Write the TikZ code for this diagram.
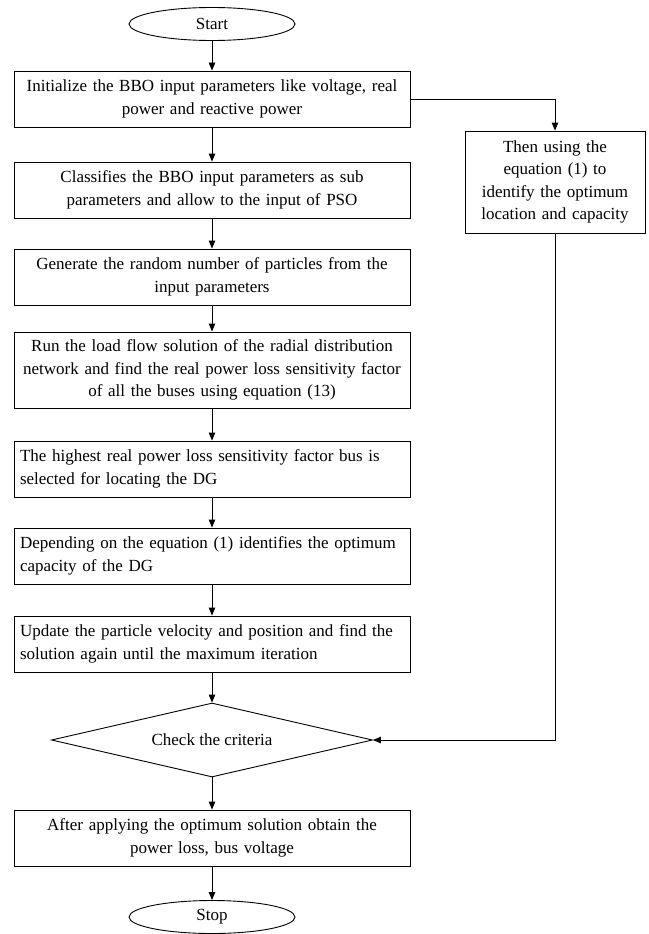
\documentclass[tikz,border=0pt]{standalone}
\usepackage{fontspec}
\setmainfont{Liberation Serif}
\usetikzlibrary{shapes.geometric,arrows.meta}

\begin{document}
\begin{tikzpicture}[x=1pt, y=-1pt, line width=0.9pt,
		>={Triangle[length=8pt,width=6.5pt]},
		every node/.style={font=\fontsize{17}{22.5}\selectfont},
		procbox/.style={draw, rectangle, minimum width=396pt, minimum height=56pt, inner sep=0pt, text width=384pt, align=center},
		leftbox/.style={procbox, align=left},
		sidebox/.style={draw, rectangle, minimum width=180pt, minimum height=102pt, inner sep=0pt, text width=176pt, align=center},
		termnode/.style={draw, ellipse, minimum width=166pt, minimum height=33pt, inner sep=0pt},
		decide/.style={draw, diamond, aspect=4.34, minimum width=321pt, minimum height=74pt, inner sep=0pt}]
	\useasboundingbox (0,0) rectangle (648,934);
	\def\cx{212}
	
	\node[termnode] (start) at (\cx,24) {Start};
	\node[procbox] (init) at (\cx,99) {Initialize the BBO input parameters like voltage, real\\ power and reactive power};
	\node[procbox] (classify) at (\cx,190) {Classifies the BBO input parameters as sub\\ parameters and allow to the input of PSO};
	\node[procbox] (gen) at (\cx,277) {Generate the random number of particles from the\\ input parameters};
	\node[procbox, minimum height=76pt] (loadflow) at (\cx,370) {Run the load flow solution of the radial distribution\\ network and find the real power loss sensitivity factor\\ of all the buses using equation (13)};
	\node[leftbox] (locate) at (\cx,469) {The highest real power loss sensitivity factor bus is\\ selected for locating the DG};
	\node[leftbox] (capacity) at (\cx,556) {Depending on the equation (1) identifies the optimum\\ capacity of the DG};
	\node[leftbox] (update) at (\cx,644) {Update the particle velocity and position and find the\\ solution again until the maximum iteration};
	\node[decide] (check) at (\cx,740) {Check the criteria};
	\node[procbox] (result) at (\cx,838) {After applying the optimum solution obtain the\\ power loss, bus voltage};
	\node[termnode] (stop) at (\cx,917) {Stop};
	
	\node[sidebox] (side) at (555,182) {Then using the\\ equation (1) to\\ identify the optimum\\ location and capacity};
	
	\foreach \u/\v in {start/init, init/classify, classify/gen, gen/loadflow, loadflow/locate, locate/capacity, capacity/update, update/check, check/result, result/stop} {
		\draw[->] (\u) -- (\v);
	}
	
	\draw[->] (init.east) -| (side.north);
	\draw[->] (side.south) |- (check.east);
\end{tikzpicture}
\end{document}
